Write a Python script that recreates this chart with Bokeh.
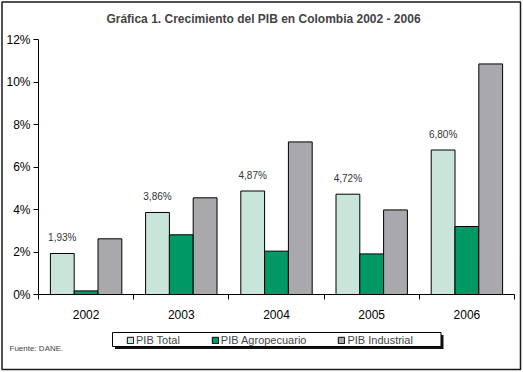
from bokeh.plotting import figure
from bokeh.models import (ColumnDataSource, FixedTicker, PrintfTickFormatter, Legend, LegendItem,
                          Label, LabelSet, Range1d)
from bokeh.core.properties import value
from bokeh.embed import file_html
from bokeh.resources import INLINE

years = ["2002", "2003", "2004", "2005", "2006"]
pib_total = [1.93, 3.86, 4.87, 4.72, 6.80]
pib_agro = [0.17, 2.81, 2.04, 1.91, 3.20]
pib_industrial = [2.62, 4.55, 7.18, 3.98, 10.85]
series_names = ["PIB Total", "PIB Agropecuario", "PIB Industrial"]
colors = ["#C9E5D9", "#009966", "#A9A9AD"]
y_ticks = [0, 2, 4, 6, 8, 10, 12]
y_max = 12

FONT = "Liberation Sans"

# canvas geometry (pixels) -> the frame covers the whole canvas
W, H = 522, 371
AX_LEFT, AX_RIGHT = 38, 514      # pixel x of category axis start / end
AX_TOP, AX_BOTTOM = 39, 294      # pixel y of y_max / 0
n = len(years)
ux = (AX_RIGHT - AX_LEFT) / n
uy = (AX_BOTTOM - AX_TOP) / y_max


def px_x(fx):
    return (fx - AX_LEFT) / ux


def px_y(fy):
    return (AX_BOTTOM - fy) / uy


p = figure(width=W, height=H, output_backend="svg", toolbar_location=None,
           x_range=Range1d(px_x(0), px_x(W)), y_range=Range1d(px_y(H), px_y(0)),
           min_border=0, min_border_left=0, min_border_right=0, min_border_top=0,
           min_border_bottom=0)
p.outline_line_color = None
p.xgrid.visible = False
p.ygrid.visible = False
p.background_fill_color = "white"
p.border_fill_color = "white"

# chart border
p.quad(left=px_x(1.5), right=px_x(520), top=px_y(1.5), bottom=px_y(369),
       fill_color=None, line_color="#1a1a1a", line_width=1.5)

centers = [i + 0.5 for i in range(n)]
w = 0.25
src = ColumnDataSource(dict(
    x_total=[c - w for c in centers], x_agro=centers, x_ind=[c + w for c in centers],
    total=pib_total, agro=pib_agro, ind=pib_industrial,
    lbl=[("%.2f%%" % v).replace(".", ",") for v in pib_total]))

r1 = p.vbar(x="x_total", top="total", width=w, bottom=0, source=src,
            fill_color=colors[0], line_color="black", line_width=1)
r2 = p.vbar(x="x_agro", top="agro", width=w, bottom=0, source=src,
            fill_color=colors[1], line_color="black", line_width=1)
r3 = p.vbar(x="x_ind", top="ind", width=w, bottom=0, source=src,
            fill_color=colors[2], line_color="black", line_width=1)

labels = LabelSet(x="x_total", y="total", text="lbl", source=src, y_offset=10,
                  text_align="center", text_baseline="bottom", text_font=value(FONT),
                  text_font_size=value("10px"), text_color="#333333")
p.add_layout(labels)

# y axis fixed at x = 0
p.yaxis.fixed_location = 0
p.yaxis.bounds = (0, y_max)
p.yaxis.ticker = FixedTicker(ticks=y_ticks)
p.yaxis.formatter = PrintfTickFormatter(format="%d%%")
p.yaxis.major_label_text_font = FONT
p.yaxis.major_label_text_font_size = "12px"
p.yaxis.major_label_text_color = "black"
p.yaxis.major_tick_in = 0
p.yaxis.major_tick_out = 5
p.yaxis.minor_tick_line_color = None
p.yaxis.axis_line_color = "black"
p.yaxis.major_label_standoff = 3

# x axis fixed at y = 0: labels at centers, ticks at boundaries (minor ticks)
p.xaxis.fixed_location = 0
p.xaxis.bounds = (0, n)
p.xaxis.ticker = FixedTicker(ticks=centers, minor_ticks=list(range(n + 1)))
p.xaxis.major_label_overrides = {c: y for c, y in zip(centers, years)}
p.xaxis.major_tick_in = 0
p.xaxis.major_tick_out = 0
p.xaxis.minor_tick_in = 0
p.xaxis.minor_tick_out = 5
p.xaxis.minor_tick_line_color = "black"
p.xaxis.major_label_text_font = FONT
p.xaxis.major_label_text_font_size = "12px"
p.xaxis.major_label_text_color = "black"
p.xaxis.major_label_standoff = 10

# legend frame with shadow
p.quad(left=px_x(114.5), right=px_x(443), top=px_y(334.5), bottom=px_y(348.5),
       fill_color="#111111", line_color=None)
p.quad(left=px_x(112), right=px_x(440.5), top=px_y(332), bottom=px_y(346),
       fill_color="white", line_color="black", line_width=1)

legend = Legend(items=[LegendItem(label=series_names[0], renderers=[r1]),
                       LegendItem(label=series_names[1], renderers=[r2]),
                       LegendItem(label=series_names[2], renderers=[r3])],
                orientation="horizontal", location=(126, H - 346),
                label_text_font=FONT, label_text_font_size="11px",
                glyph_width=8, glyph_height=8, label_standoff=2, spacing=31,
                padding=0, margin=0, border_line_color=None,
                background_fill_alpha=0.0, label_height=12)
p.add_layout(legend)

title = Label(x=px_x(263), y=px_y(18),
              text="Gráfica 1. Crecimiento del PIB en Colombia 2002 - 2006",
              text_font=FONT, text_font_size="12px", text_font_style="bold",
              text_align="center", text_baseline="middle")
p.add_layout(title)

src_label = Label(x=px_x(9), y=px_y(348),
                  text="Fuente:  DANE.", text_font=FONT, text_font_size="8px",
                  text_align="left", text_baseline="middle")
p.add_layout(src_label)

open("out.html", "w").write(file_html(p, INLINE))
